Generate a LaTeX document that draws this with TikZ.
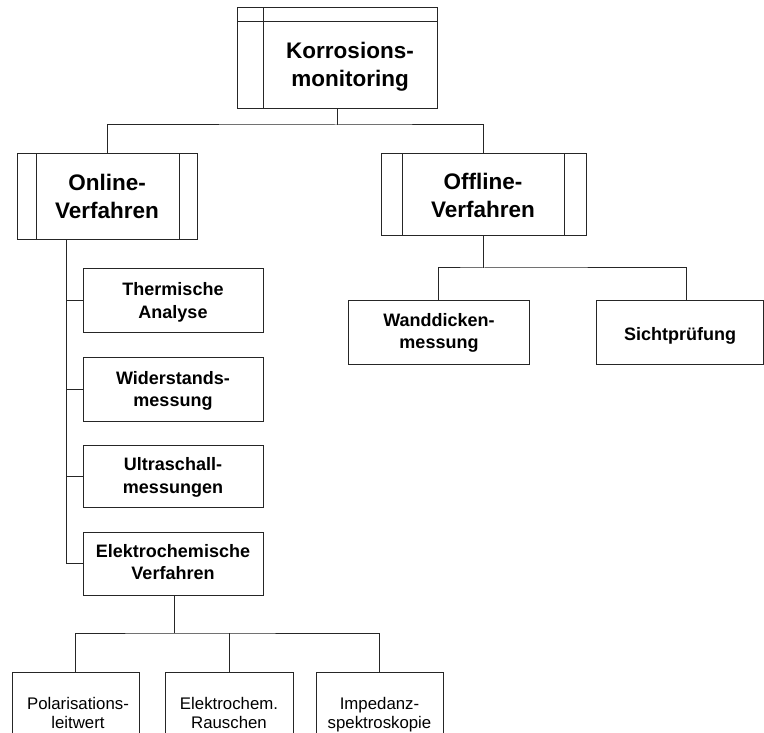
\documentclass[tikz,border=0pt]{standalone}
\usepackage{fontspec}
\setmainfont{Liberation Sans}
\begin{document}
\begin{tikzpicture}[x=1pt,y=-1pt,
  box/.style={draw=black!85, line width=1pt, rectangle, inner sep=0pt, outer sep=0pt},
  conn/.style={draw=black!85, line width=1pt},
  big/.style={font=\fontsize{22.5}{28}\selectfont\bfseries, align=center, inner sep=0pt},
  mid/.style={font=\fontsize{18}{22.5}\selectfont\bfseries, align=center, inner sep=0pt},
  small/.style={font=\fontsize{16.8}{19}\selectfont, align=center, inner sep=0pt}]
\useasboundingbox (0,0) rectangle (764,733);
\clip (0,0) rectangle (764,733);

% ---------- top box ----------
\node[box, minimum width=200pt, minimum height=101pt] (root) at (337,58.5) {};
\draw[conn] ([xshift=26pt]root.north west) -- ([xshift=26pt]root.south west);
\draw[conn] ([yshift=-14pt]root.north west) -- ([yshift=-14pt]root.north east);
\node[big] (roott) at (350,66.5) {Korrosions-\\monitoring};

% ---------- online ----------
\node[box, minimum width=180pt, minimum height=86pt] (online) at (107,197) {};
\draw[conn] ([xshift=19pt]online.north west) -- ([xshift=19pt]online.south west);
\draw[conn] ([xshift=-18pt]online.north east) -- ([xshift=-18pt]online.south east);
\node[big] (onlinet) at (107,196) {Online-\\Verfahren};

% ---------- offline ----------
\node[box, minimum width=205pt, minimum height=82pt] (offline) at (483.5,195) {};
\draw[conn] ([xshift=21pt]offline.north west) -- ([xshift=21pt]offline.south west);
\draw[conn] ([xshift=-22pt]offline.north east) -- ([xshift=-22pt]offline.south east);
\node[big] (offlinet) at (483,195) {Offline-\\Verfahren};

% ---------- left column ----------
\node[box, minimum width=180pt, minimum height=63pt] (therm) at (173,300.5) {};
\node[mid] at (173,302.3) {Thermische\\Analyse};
\node[box, minimum width=180pt, minimum height=64pt] (wider) at (173,389) {};
\node[mid] at (173,391) {Widerstands-\\messung};
\node[box, minimum width=180pt, minimum height=62pt] (ultra) at (173,476) {};
\node[mid] at (173,477.4) {Ultraschall-\\messungen};
\node[box, minimum width=180pt, minimum height=63pt] (elektro) at (173,563.5) {};
\node[mid] at (173,562) {Elektrochemische\\Verfahren};

% ---------- offline children ----------
\node[box, minimum width=181pt, minimum height=64pt] (wand) at (438.5,332) {};
\node[mid] at (439,333) {Wanddicken-\\messung};
\node[box, minimum width=167pt, minimum height=64pt] (sicht) at (679.5,332) {};
\node[mid, anchor=base] at (680,340) {Sichtprüfung};

% ---------- bottom row ----------
\node[box, minimum width=127pt, minimum height=80pt] (pol) at (75.5,712) {};
\node[small] at (78,713) {Polarisations-\\leitwert};
\node[box, minimum width=128pt, minimum height=80pt] (rausch) at (229,712) {};
\node[small] at (229,713) {Elektrochem.\\Rauschen};
\node[box, minimum width=127pt, minimum height=80pt] (imp) at (379.5,712) {};
\node[small] at (379.5,715) {Impedanz-\\spektroskopie};

% ---------- connectors ----------
\coordinate (bus0) at (337,125);
\draw[conn] (root.south -| bus0) -- (bus0);
\draw[conn] (online.north) |- (bus0) -| (offline.north);

\coordinate (trunktop) at (66,240);
\coordinate (trunkbot) at (66,563.5);
\draw[conn] (trunktop) -- (trunkbot) -- (elektro.west);
\draw[conn] (therm.west) -- (therm.west -| trunktop);
\draw[conn] (wider.west) -- (wider.west -| trunktop);
\draw[conn] (ultra.west) -- (ultra.west -| trunktop);

\coordinate (bus1) at (174,633);
\draw[conn] (elektro.south -| bus1) -- (bus1);
\draw[conn] (pol.north) |- (bus1) -| (imp.north);
\draw[conn] (rausch.north) -- (rausch.north |- bus1);

\coordinate (bus2) at (483,268);
\coordinate (sichttop) at (686,300);
\draw[conn] (offline.south -| bus2) -- (bus2);
\draw[conn] (wand.north) |- (bus2) -| (sichttop);
\end{tikzpicture}
\end{document}
